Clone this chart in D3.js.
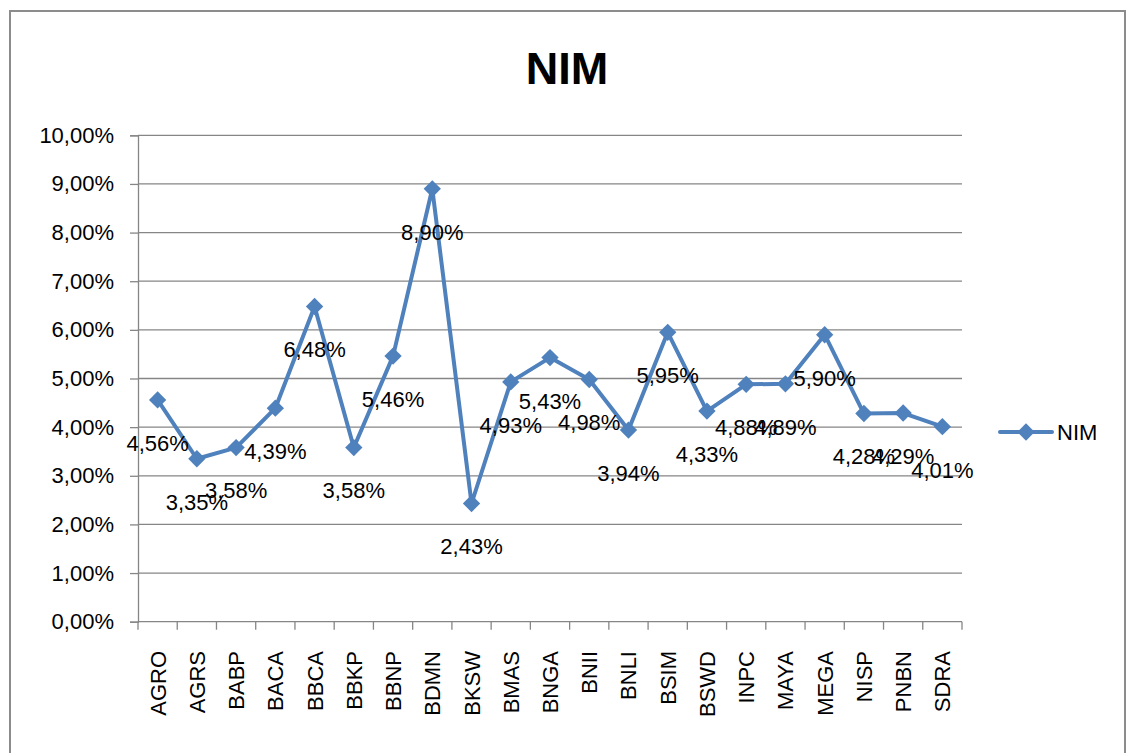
<!DOCTYPE html>
<html>
<head>
<meta charset="utf-8">
<script src="https://cdn.jsdelivr.net/npm/d3@7"></script>
<style>
  body { margin: 0; background: #fff; }
  text { font-family: "Liberation Sans", Arial, sans-serif; fill: #000; }
</style>
</head>
<body>
<script>
// data
var banks = ["AGRO","AGRS","BABP","BACA","BBCA","BBKP","BBNP","BDMN","BKSW","BMAS",
             "BNGA","BNII","BNLI","BSIM","BSWD","INPC","MAYA","MEGA","NISP","PNBN","SDRA"];
var nimValues = [4.56,3.35,3.58,4.39,6.48,3.58,5.46,8.90,2.43,4.93,
                 5.43,4.98,3.94,5.95,4.33,4.88,4.89,5.90,4.28,4.29,4.01];
var yTicks = [0,1,2,3,4,5,6,7,8,9,10];

var blue = "#4f81bd";
var grey = "#868686";

function fmt(v){
    return v.toFixed(2).replace(".", ",") + "%";
}

var svg = d3.select("body")
   .append("svg")
   .attr("width",1127)
   .attr("height",753);

// chart area border
svg.append("rect")
   .attr("x",10).attr("y",11)
   .attr("width",1115).attr("height",760)
   .attr("fill","none")
   .attr("stroke","#8c8c8c")
   .attr("stroke-width",2);

svg.append("text")
   .text("NIM")
   .attr("x",567).attr("y",84)
   .attr("text-anchor","middle")
   .style("font-size","45px")
   .style("font-weight","bold");

var xScale = d3.scaleBand()
   .domain(banks)
   .range([138,962]);

var yScale = d3.scaleLinear()
   .domain([0,10])
   .range([621.7,135.3]);

// gridlines
svg.append("g")
   .selectAll("line")
   .data(yTicks.slice(1))
   .enter()
   .append("line")
   .attr("x1",138).attr("x2",962)
   .attr("y1",function(d){ return yScale(d); })
   .attr("y2",function(d){ return yScale(d); })
   .attr("stroke",grey)
   .attr("stroke-width",1.3);

// y axis
var yAxis = d3.axisLeft(yScale)
   .tickValues(yTicks)
   .tickSize(8)
   .tickPadding(16)
   .tickFormat(function(d){ return fmt(d); });
var gy = svg.append("g").attr("transform","translate(138,0)").call(yAxis);
gy.select(".domain").attr("stroke",grey).attr("stroke-width",1.3);
gy.selectAll(".tick line").attr("stroke",grey).attr("stroke-width",1.3);
gy.selectAll(".tick text")
   .style("font-size","22px")
   .style("font-family","Liberation Sans, Arial, sans-serif");

// x axis line with ticks between categories
var gx = svg.append("g");
gx.append("line")
   .attr("x1",138).attr("x2",962)
   .attr("y1",yScale(0)).attr("y2",yScale(0))
   .attr("stroke",grey).attr("stroke-width",1.3);
var bounds = banks.map(function(b){ return xScale(b); }).concat([xScale.range()[1]]);
gx.selectAll("line.tk")
   .data(bounds)
   .enter()
   .append("line")
   .attr("class","tk")
   .attr("x1",function(d){ return d; })
   .attr("x2",function(d){ return d; })
   .attr("y1",yScale(0)).attr("y2",yScale(0)+8)
   .attr("stroke",grey).attr("stroke-width",1.3);
gx.selectAll("text")
   .data(banks)
   .enter()
   .append("text")
   .text(function(d){ return d; })
   .attr("text-anchor","end")
   .attr("transform",function(d){
       var cx = xScale(d) + xScale.bandwidth()/2;
       return "translate(" + (cx+8) + ",651) rotate(-90)";
   })
   .style("font-size","22px");

var cx = function(d,i){ return xScale(banks[i]) + xScale.bandwidth()/2; };

var line = d3.line()
   .x(function(d,i){ return cx(d,i); })
   .y(function(d){ return yScale(d); });

svg.append("path")
   .datum(nimValues)
   .attr("d",line)
   .attr("fill","none")
   .attr("stroke",blue)
   .attr("stroke-width",4)
   .attr("stroke-linejoin","round");

var diamond = d3.symbol().type(d3.symbolSquare).size(150);

svg.selectAll("path.marker")
   .data(nimValues)
   .enter()
   .append("path")
   .attr("class","marker")
   .attr("d",diamond)
   .attr("fill",blue)
   .attr("transform",function(d,i){
       return "translate(" + cx(d,i) + "," + yScale(d) + ") rotate(45)";
   });

// data labels
svg.selectAll("text.lbl")
   .data(nimValues)
   .enter()
   .append("text")
   .attr("class","lbl")
   .text(function(d){ return fmt(d); })
   .attr("x",function(d,i){ return cx(d,i); })
   .attr("y",function(d){ return yScale(d) + 43; })
   .attr("dy","0.36em")
   .attr("text-anchor","middle")
   .style("font-size","22px");

// legend
var lg = svg.append("g").attr("transform","translate(1000,432)");
lg.append("line")
   .attr("x1",0).attr("x2",52)
   .attr("y1",0).attr("y2",0)
   .attr("stroke",blue).attr("stroke-width",4).attr("stroke-linecap","round");
lg.append("path")
   .attr("d",diamond)
   .attr("fill",blue)
   .attr("transform","translate(26,0) rotate(45)");
lg.append("text")
   .text("NIM")
   .attr("x",57).attr("y",0)
   .attr("dy","0.36em")
   .style("font-size","22px");
</script>
</body>
</html>
